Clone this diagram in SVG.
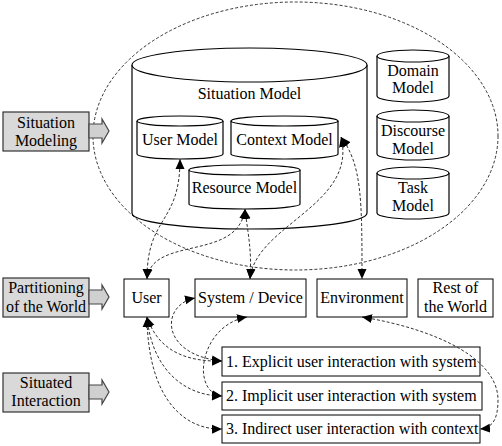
<svg xmlns="http://www.w3.org/2000/svg" width="502" height="446" viewBox="0 0 502 446">
<style>
.cyl{fill:#fff;stroke:#000;stroke-width:1.2}
.box{fill:#fff;stroke:#000;stroke-width:1}
.gbox{fill:#d9d9d9;stroke:#333;stroke-width:1.2}
.barrow{fill:#d0d0d0;stroke:#444;stroke-width:1.2}
.dash{fill:none;stroke:#333;stroke-width:1;stroke-dasharray:3,2}
</style>
<defs>
<marker id="ah" markerUnits="userSpaceOnUse" markerWidth="10" markerHeight="10" viewBox="0 0 10 10" refX="10" refY="5" orient="auto-start-reverse">
<path d="M0,0.5 L10,5 L0,9.5 Z" fill="#000"/>
</marker>
</defs>
<rect width="502" height="446" fill="#fff"/>
<ellipse id="scope" cx="295.5" cy="136" rx="202.5" ry="134" class="dash"/>
<g id="situation-model">
<path class="cyl" d="M132,65 V213 A117.5,16 0 0 0 367,213 V65"/>
<ellipse class="cyl" cx="249.5" cy="65" rx="117.5" ry="17"/>
<text x="249.5" y="99" text-anchor="middle" font-family="Liberation Serif" font-size="16">Situation Model</text>
</g>
<g id="user-model">
<path class="cyl" d="M137,121 V154 A43,5 0 0 0 223,154 V121"/>
<ellipse class="cyl" cx="180" cy="121" rx="43" ry="5"/>
<text x="180" y="145" text-anchor="middle" font-family="Liberation Serif" font-size="16">User Model</text>
</g>
<g id="context-model">
<path class="cyl" d="M231,121 V154 A53.5,5 0 0 0 338,154 V121"/>
<ellipse class="cyl" cx="284.5" cy="121" rx="53.5" ry="5"/>
<text x="284.5" y="145" text-anchor="middle" font-family="Liberation Serif" font-size="16">Context Model</text>
</g>
<g id="resource-model">
<path class="cyl" d="M189,170 V204 A55.5,5 0 0 0 300,204 V170"/>
<ellipse class="cyl" cx="244.5" cy="170" rx="55.5" ry="5"/>
<text x="244.5" y="193" text-anchor="middle" font-family="Liberation Serif" font-size="16">Resource Model</text>
</g>
<g id="domain-model">
<path class="cyl" d="M377,56 V96 A36,6 0 0 0 449,96 V56"/>
<ellipse class="cyl" cx="413" cy="56" rx="36" ry="6"/>
<text x="413" y="76" text-anchor="middle" font-family="Liberation Serif" font-size="16">Domain</text>
<text x="413" y="93" text-anchor="middle" font-family="Liberation Serif" font-size="16">Model</text>
</g>
<g id="discourse-model">
<path class="cyl" d="M377,116 V154 A36,6 0 0 0 449,154 V116"/>
<ellipse class="cyl" cx="413" cy="116" rx="36" ry="6"/>
<text x="413" y="136" text-anchor="middle" font-family="Liberation Serif" font-size="16">Discourse</text>
<text x="413" y="154" text-anchor="middle" font-family="Liberation Serif" font-size="16">Model</text>
</g>
<g id="task-model">
<path class="cyl" d="M377,173 V213 A36,6 0 0 0 449,213 V173"/>
<ellipse class="cyl" cx="413" cy="173" rx="36" ry="6"/>
<text x="413" y="193" text-anchor="middle" font-family="Liberation Serif" font-size="16">Task</text>
<text x="413" y="211" text-anchor="middle" font-family="Liberation Serif" font-size="16">Model</text>
</g>
<g id="situation-modeling">
<rect class="gbox" x="3" y="112" width="86" height="39"/>
<text x="46" y="128" text-anchor="middle" font-family="Liberation Serif" font-size="16">Situation</text>
<text x="46" y="146" text-anchor="middle" font-family="Liberation Serif" font-size="16">Modeling</text>
<path class="barrow" d="M89,124 H102 V119 L109,131 L102,143 V138 H89 Z"/>
</g>
<g id="partitioning">
<rect class="gbox" x="3" y="278" width="86" height="39"/>
<text x="46" y="293" text-anchor="middle" font-family="Liberation Serif" font-size="16">Partitioning</text>
<text x="46" y="312" text-anchor="middle" font-family="Liberation Serif" font-size="16">of the World</text>
<path class="barrow" d="M89,290 H102 V285 L109,297 L102,309 V304 H89 Z"/>
</g>
<g id="situated-interaction">
<rect class="gbox" x="3" y="373" width="86" height="39"/>
<text x="46" y="388" text-anchor="middle" font-family="Liberation Serif" font-size="16">Situated</text>
<text x="46" y="406" text-anchor="middle" font-family="Liberation Serif" font-size="16">Interaction</text>
<path class="barrow" d="M89,385 H102 V380 L109,392 L102,404 V399 H89 Z"/>
</g>
<g id="user"><rect class="box" x="124" y="279" width="45" height="38"/><text x="146.5" y="303" text-anchor="middle" font-family="Liberation Serif" font-size="16">User</text></g>
<g id="system-device"><rect class="box" x="195" y="279" width="111" height="38"/><text x="250.5" y="303" text-anchor="middle" font-family="Liberation Serif" font-size="16">System / Device</text></g>
<g id="environment"><rect class="box" x="317" y="279" width="90" height="38"/><text x="362" y="303" text-anchor="middle" font-family="Liberation Serif" font-size="16">Environment</text></g>
<g id="rest-of-world"><rect class="box" x="418" y="279" width="75" height="38"/><text x="455.5" y="293" text-anchor="middle" font-family="Liberation Serif" font-size="16">Rest of</text><text x="455.5" y="312" text-anchor="middle" font-family="Liberation Serif" font-size="16">the World</text></g>
<g id="explicit"><rect class="box" x="222" y="347" width="258" height="29"/><text x="226" y="367" font-family="Liberation Serif" font-size="16">1. Explicit user interaction with system</text></g>
<g id="implicit"><rect class="box" x="222" y="382" width="260" height="28"/><text x="226" y="401" font-family="Liberation Serif" font-size="16">2. Implicit user interaction with system</text></g>
<g id="indirect"><rect class="box" x="222" y="415" width="258" height="28"/><text x="226" y="434" font-family="Liberation Serif" font-size="16">3. Indirect user interaction with context</text></g>
<g id="connectors">
<path class="dash" marker-start="url(#ah)" marker-end="url(#ah)" d="M180,159 C180,225 147,215 147,279"/>
<path class="dash" marker-start="url(#ah)" marker-end="url(#ah)" d="M245,209 C238,262 152,235 147,279"/>
<path class="dash" marker-start="url(#ah)" marker-end="url(#ah)" d="M245,209 C248,235 252,250 250,279"/>
<path class="dash" marker-start="url(#ah)" marker-end="url(#ah)" d="M341,137 C358,205 255,225 250,279"/>
<path class="dash" marker-start="url(#ah)" marker-end="url(#ah)" d="M341,137 C362,165 362,200 362,279"/>
<path class="dash" marker-start="url(#ah)" marker-end="url(#ah)" d="M147,317 C158,350 185,362 222,361"/>
<path class="dash" marker-start="url(#ah)" marker-end="url(#ah)" d="M147,317 C152,370 185,396 222,396"/>
<path class="dash" marker-start="url(#ah)" marker-end="url(#ah)" d="M147,317 C148,400 185,430 222,429"/>
<path class="dash" marker-start="url(#ah)" marker-end="url(#ah)" d="M195,298 C160,305 160,355 222,361"/>
<path class="dash" marker-start="url(#ah)" marker-end="url(#ah)" d="M247,317 C200,325 190,392 222,396"/>
<path class="dash" marker-start="url(#ah)" marker-end="url(#ah)" d="M362,317 C440,330 498,360 498,400 C498,420 492,428 480,429"/>
</g>
</svg>
